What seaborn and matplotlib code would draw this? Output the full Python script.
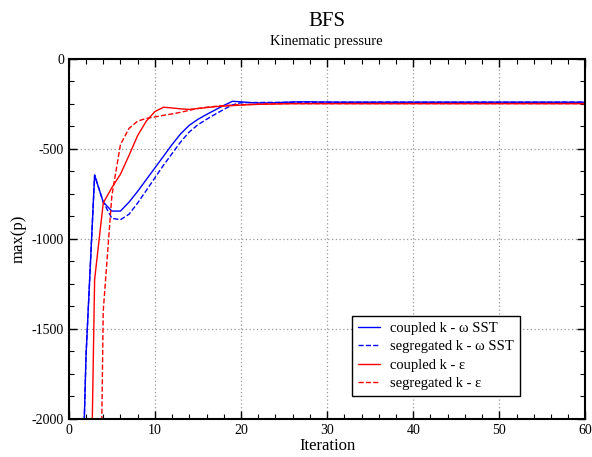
import matplotlib
matplotlib.use("Agg")
import matplotlib.pyplot as plt
from matplotlib.ticker import MultipleLocator
import pandas as pd
import seaborn as sns

# max(p) history
iter_kw = list(range(1, 61))
coupled_kw = [-3400, -1650, -645, -795, -845, -845, -795, -735, -670, -605,
              -540, -475, -415, -368, -335, -308, -283, -258, -235, -238,
              -242, -244, -244, -243, -241, -239, -238, -238, -239, -239,
              -240, -240, -240, -240, -240, -240, -240, -240, -240, -240,
              -240, -240, -240, -240, -240, -240, -240, -240, -240, -240,
              -240, -240, -240, -240, -240, -240, -240, -240, -240, -240]
segregated_kw = [-3400, -1650, -645, -795, -885, -893, -862, -800, -730, -660,
                 -590, -525, -460, -405, -365, -335, -307, -280, -255, -243,
                 -242, -242, -241, -241, -241, -240, -240, -240, -240, -240,
                 -240, -240, -240, -240, -240, -240, -240, -240, -240, -240,
                 -240, -240, -240, -240, -240, -240, -240, -240, -240, -240,
                 -240, -240, -240, -240, -240, -240, -240, -240, -240, -240]

iter_ke_coupled = list(range(2, 61))
coupled_ke = [-4100, -1225, -800, -715, -640, -535, -425, -345, -292,
              -268, -272, -277, -280, -275, -270, -265, -262, -259, -256,
              -254, -252, -251, -250, -249, -248, -248, -248, -248, -248,
              -248, -248, -248, -248, -248, -248, -248, -248, -248, -248,
              -248, -248, -248, -248, -248, -248, -248, -248, -248, -248,
              -248, -248, -248, -248, -248, -248, -248, -248, -248, -248]

iter_ke_segregated = list(range(3, 61))
segregated_ke = [-5000, -1400, -760, -475, -385, -345, -330, -322,
                 -313, -305, -296, -285, -275, -268, -263, -259, -256, -254,
                 -252, -251, -250, -249, -248, -248, -248, -248, -248, -248,
                 -248, -248, -248, -248, -248, -248, -248, -248, -248, -248,
                 -248, -248, -248, -248, -248, -248, -248, -248, -248, -248,
                 -248, -248, -248, -248, -248, -248, -248, -248, -248, -248]

x_ticks = [0, 10, 20, 30, 40, 50, 60]
y_ticks = [-2000, -1500, -1000, -500, 0]


def plot_history():
    sns.set_theme(style="ticks")
    plt.rcParams['font.family'] = ['Liberation Serif', 'DejaVu Serif']
    plt.rcParams['axes.unicode_minus'] = False
    plt.rcParams['text.color'] = 'black'
    plt.rcParams['axes.labelcolor'] = 'black'

    fig = plt.figure(figsize=(5.92, 4.57), dpi=100)
    ax = fig.add_axes([0.1162, 0.0832, 0.8728, 0.7877])

    series = [
        (iter_kw, coupled_kw, 'blue', '-', "coupled k - ω SST"),
        (iter_kw, segregated_kw, 'blue', '--', "segregated k - ω SST"),
        (iter_ke_coupled, coupled_ke, 'red', '-', "coupled k - ε"),
        (iter_ke_segregated, segregated_ke, 'red', '--', "segregated k - ε"),
    ]
    for x, y, color, ls, label in series:
        df = pd.DataFrame({'Iteration': x, 'p': y})
        sns.lineplot(ax=ax, data=df, x='Iteration', y='p', color=color,
                     linestyle=ls, linewidth=1.0, label=label)

    ax.set_xlim(0, 60)
    ax.set_ylim(-2000, 0)
    ax.set_xticks(x_ticks)
    ax.set_yticks(y_ticks)
    ax.xaxis.set_minor_locator(MultipleLocator(2))
    ax.yaxis.set_minor_locator(MultipleLocator(125))
    ax.tick_params(which='both', direction='in', top=True, right=True,
                   colors='black', labelcolor='black', labelsize=10)
    ax.tick_params(which='major', length=6, width=1)
    ax.tick_params(which='minor', length=3.5, width=0.8)
    ax.grid(True, which='major', color='#999999', linestyle=(0, (1, 2)),
            linewidth=0.9)
    for sp in ax.spines.values():
        sp.set_color('black')
        sp.set_linewidth(1.5)

    ax.set_xlabel("Iteration", fontsize=12, labelpad=1, color='black')
    ax.set_ylabel("max(p)", fontsize=12, labelpad=4, color='black')

    fig.text(0.552, 0.953, "BFS", ha='center', va='center', fontsize=15,
             color='black')
    fig.text(0.552, 0.909, "Kinematic pressure", ha='center', va='center',
             fontsize=10.5, color='black')

    leg = ax.legend(loc='upper left', bbox_to_anchor=(0.549, 0.286),
                    fontsize=10.5, frameon=True, fancybox=False, framealpha=1,
                    edgecolor='black', handlelength=1.5, handletextpad=0.7,
                    labelspacing=0.35, borderpad=0.4, borderaxespad=0)
    leg.get_frame().set_linewidth(1.0)
    for t in leg.get_texts():
        t.set_color('black')

    fig.savefig("out.png", dpi=100)


def main():
    plot_history()


if __name__ == '__main__':
    main()
